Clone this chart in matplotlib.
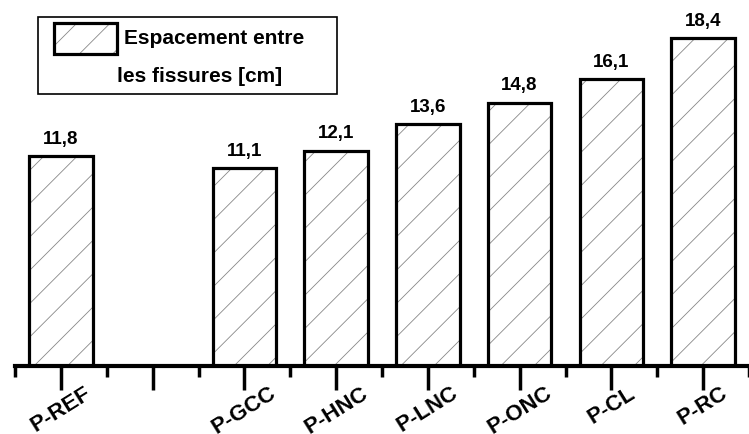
import matplotlib
matplotlib.use("Agg")
import matplotlib.pyplot as plt
from matplotlib.patches import Rectangle

plt.rcParams['font.family'] = ['Liberation Sans', 'DejaVu Sans']
plt.rcParams['hatch.linewidth'] = 0.6
plt.rcParams['hatch.color'] = '#888888'

categories = ["P-REF", "", "P-GCC", "P-HNC", "P-LNC", "P-ONC", "P-CL", "P-RC"]
values = [11.8, None, 11.1, 12.1, 13.6, 14.8, 16.1, 18.4]
labels = ["11,8", "", "11,1", "12,1", "13,6", "14,8", "16,1", "18,4"]
legend_line1 = "Espacement entre"
legend_line2 = "les fissures [cm]"

W, H = 749, 434
fig = plt.figure(figsize=(W / 100, H / 100), dpi=100)
ax = fig.add_axes([15 / W, 68 / H, 734 / W, 366 / H])

xs = [i for i, v in enumerate(values) if v is not None]
vs = [v for v in values if v is not None]
ls = [l for l, v in zip(labels, values) if v is not None]
ax.bar(xs, vs, width=0.69, color='white', edgecolor='#888888', hatch='/', linewidth=0, zorder=2)
ax.bar(xs, vs, width=0.69, fill=False, edgecolor='black', linewidth=2.3, zorder=3)

for x, v, t in zip(xs, vs, ls):
    ax.annotate(t, (x, v), xytext=(0, 6), textcoords='offset points',
                ha='center', va='bottom', fontsize=13.5, fontweight='bold')

ax.set_xlim(-0.5, -0.5 + 734 / 93)
ax.set_ylim(0, 366 / 17.8)
ax.set_xticks(range(len(categories)))
ax.set_xticklabels(categories, rotation=32, ha='center', va='top', fontsize=16, fontweight='bold')
ax.set_xticks([i - 0.5 for i in range(len(categories) + 1)], minor=True)
ax.tick_params(axis='x', which='major', length=17, width=2.5, direction='out', pad=-5)
ax.tick_params(axis='x', which='minor', length=8, width=2.5, direction='out')
ax.set_yticks([])
for s in ['top', 'right', 'left']:
    ax.spines[s].set_visible(False)
ax.spines['bottom'].set_linewidth(3)

# legend box (drawn in figure pixel coordinates, origin top-left)
def fx(px):
    return px / W

def fy(py):
    return 1 - py / H

frame = Rectangle((fx(38), fy(94)), fx(337) - fx(38), fy(17) - fy(94),
                  transform=fig.transFigure, fill=False, edgecolor='black', linewidth=1.2)
fig.patches.append(frame)
hh = Rectangle((fx(54), fy(54)), fx(117) - fx(54), fy(23) - fy(54),
               transform=fig.transFigure, facecolor='white', edgecolor='#888888',
               hatch='/', linewidth=0)
fig.patches.append(hh)
hb = Rectangle((fx(54), fy(54)), fx(117) - fx(54), fy(23) - fy(54),
               transform=fig.transFigure, fill=False, edgecolor='black', linewidth=2.3)
fig.patches.append(hb)
fig.text(fx(124), fy(39), legend_line1, ha='left', va='center', fontsize=15, fontweight='bold')
fig.text(fx(200), fy(77), legend_line2, ha='center', va='center', fontsize=15, fontweight='bold')

fig.savefig("out.png", dpi=100)
